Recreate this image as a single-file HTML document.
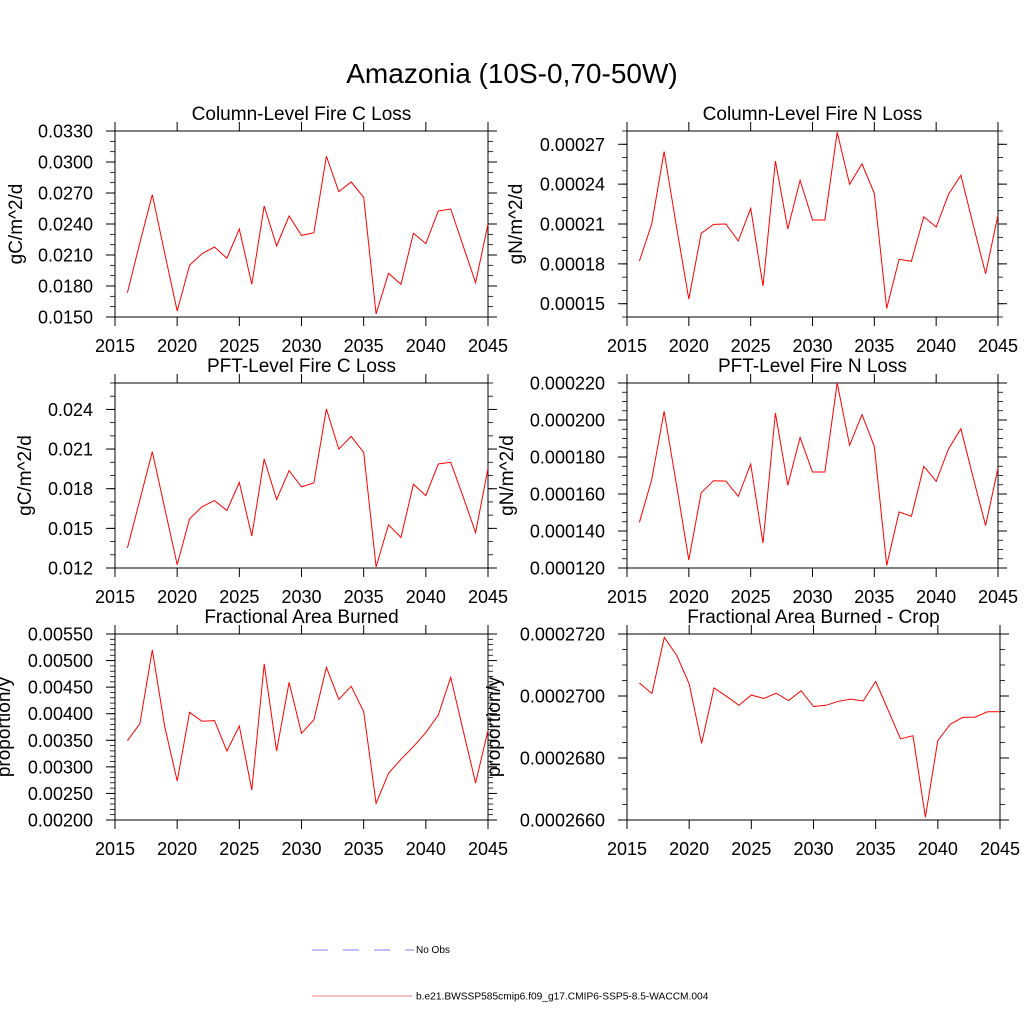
<!DOCTYPE html>
<html><head><meta charset="utf-8"><style>
html,body{margin:0;padding:0;background:#fff;}
svg text{font-family:"Liberation Sans",Arial,sans-serif;fill:#000;}
</style></head><body>
<svg id="fig" width="1024" height="1024" viewBox="0 0 1024 1024" xmlns="http://www.w3.org/2000/svg">
<text x="512" y="83" font-size="28" text-anchor="middle">Amazonia (10S-0,70-50W)</text>
<g>
<line x1="312" y1="950" x2="414" y2="950" stroke="#8080f0" stroke-width="1" stroke-dasharray="16,15"/>
<text x="416" y="953" font-size="10">No Obs</text>
<line x1="312" y1="996" x2="412" y2="996" stroke="#f08080" stroke-width="1"/>
<text x="416" y="999.5" font-size="10.2">b.e21.BWSSP585cmip6.f09_g17.CMIP6-SSP5-8.5-WACCM.004</text>
</g>
</svg>
<script>
const years = [2016,2017,2018,2019,2020,2021,2022,2023,2024,2025,2026,2027,2028,2029,2030,2031,2032,2033,2034,2035,2036,2037,2038,2039,2040,2041,2042,2043,2044,2045];
const xTicks = [2015,2020,2025,2030,2035,2040,2045];
const colCLoss = [0.01735,0.0222,0.02684,0.02116,0.01558,0.0200,0.02113,0.02177,0.02068,0.02352,0.01816,0.02574,0.02187,0.02477,0.0229,0.02316,0.03055,0.02713,0.02806,0.02658,0.01529,0.01923,0.01816,0.0231,0.0221,0.02526,0.02545,0.0219,0.01832,0.0240];
const colNLoss = [18.21,21.0,26.45,20.8,15.35,20.3,20.97,21.0,19.72,22.18,16.33,25.74,20.62,24.29,21.3,21.3,27.9,23.99,25.52,23.31,14.65,18.34,18.19,21.55,20.77,23.23,24.67,20.9,17.26,21.68].map(v=>v*1e-5);
const pftCLoss = [13.51,17.16,20.8,16.53,12.25,15.72,16.63,17.1,16.35,18.47,14.42,20.25,17.18,19.37,18.14,18.44,24.03,21.0,21.96,20.75,12.08,15.27,14.31,18.34,17.48,19.87,20.0,17.4,14.67,19.55].map(v=>v*1e-3);
const pftNLoss = [144.7,167.7,204.7,165,124.3,160.7,167.2,167,158.7,176.2,133.5,203.8,164.7,190.6,171.9,171.9,220,186.3,202.9,185.8,121.4,150.3,147.9,175,166.8,184.3,195.3,168.6,143,174].map(v=>v*1e-6);
const fracBurn = [349.3,381.3,520,375.7,273.4,402.6,385.7,387,329.9,376.9,256.5,493.6,329.9,459,363,388.8,487.3,427.1,451.6,403.9,231.4,287.8,314.2,338,364.4,397.6,468.5,369,269.6,369].map(v=>v*1e-5);
const fracBurnCrop = [2704.2,2700.8,2718.9,2713.1,2703.9,2684.7,2702.6,2699.9,2697,2700.3,2699.2,2700.9,2698.5,2701.7,2696.6,2697,2698.3,2699,2698.4,2704.7,2695.5,2686.2,2687.2,2660.9,2685.6,2690.9,2693.1,2693.2,2694.9,2694.9].map(v=>v*1e-7);
const yTicks1 = ["0.0150","0.0180","0.0210","0.0240","0.0270","0.0300","0.0330"];
const yTicks2 = ["0.00015","0.00018","0.00021","0.00024","0.00027"];
const yTicks3 = ["0.012","0.015","0.018","0.021","0.024"];
const yTicks4 = ["0.000120","0.000140","0.000160","0.000180","0.000200","0.000220"];
const yTicks5 = ["0.00200","0.00250","0.00300","0.00350","0.00400","0.00450","0.00500","0.00550"];
const yTicks6 = ["0.0002660","0.0002680","0.0002700","0.0002720"];

const NS="http://www.w3.org/2000/svg";
const svg=document.getElementById('fig');
function mk(tag,attrs,parent){const e=document.createElementNS(NS,tag);for(const k in attrs)e.setAttribute(k,attrs[k]);(parent||svg).appendChild(e);return e;}

function panel(cfg){
  const g=mk('g',{});
  
  
  const {x0,x1,y0,y1,ymin,ymax,ticks,minor,data,title,ylab}=cfg;
  const X=v=>x0+(v-2015)/30*(x1-x0);
  const Y=v=>y1-(v-ymin)/(ymax-ymin)*(y1-y0);
  const t=mk('text',{x:(x0+x1)/2,y:y0-11,'font-size':19,'text-anchor':'middle'},g);
  t.textContent=title;
  
  
  const box=mk('rect',{x:x0,y:y0,width:x1-x0,height:y1-y0,fill:'none',stroke:'#000','stroke-width':1},g);
  
  
  xTicks.forEach(v=>{
    const x=X(v);
    mk('line',{x1:x,y1:y0,x2:x,y2:y0-9,stroke:'#000'},g);
    mk('line',{x1:x,y1:y1,x2:x,y2:y1+9,stroke:'#000'},g);
    const l=mk('text',{x:x,y:y1+35,'font-size':18,'text-anchor':'middle'},g);
    l.textContent=v;
    
    
  });
  ticks.forEach(s=>{
    const y=Y(parseFloat(s));
    mk('line',{x1:x0,y1:y,x2:x0-9,y2:y,stroke:'#000'},g);
    mk('line',{x1:x1,y1:y,x2:x1+9,y2:y,stroke:'#000'},g);
    const l=mk('text',{x:x0-22,y:y+6.5,'font-size':18,'text-anchor':'end'},g);
    l.textContent=s;
    
    
  });
  for(let v=ymin;v<=ymax+minor*0.01;v+=minor){
    const y=Y(v);
    mk('line',{x1:x0,y1:y,x2:x0-5,y2:y,stroke:'#000','stroke-width':0.8},g);
    mk('line',{x1:x1,y1:y,x2:x1+5,y2:y,stroke:'#000','stroke-width':0.8},g);
  }
  const yl=mk('text',{x:0,y:0,'font-size':19,'text-anchor':'middle',transform:`translate(${cfg.ylx},${(y0+y1)/2}) rotate(-90)`},g);
  yl.textContent=ylab;
  
  
  const pts=data.map((v,i)=>X(years[i]).toFixed(1)+','+Y(v).toFixed(1)).join(' ');
  const pl=mk('polyline',{points:pts,fill:'none',stroke:'#ff0000','stroke-width':1},g);
  
  
}

panel({name:'panel-column-c-loss',x0:115,x1:488,y0:131,y1:317,ymin:0.015,ymax:0.033,ticks:yTicks1,minor:0.001,data:colCLoss,title:'Column-Level Fire C Loss',ylab:'gC/m^2/d',ylx:22});
panel({name:'panel-column-n-loss',x0:627,x1:998,y0:131,y1:317,ymin:0.00014,ymax:0.00028,ticks:yTicks2,minor:0.00001,data:colNLoss,title:'Column-Level Fire N Loss',ylab:'gN/m^2/d',ylx:522});
panel({name:'panel-pft-c-loss',x0:115,x1:488,y0:383,y1:568,ymin:0.012,ymax:0.026,ticks:yTicks3,minor:0.001,data:pftCLoss,title:'PFT-Level Fire C Loss',ylab:'gC/m^2/d',ylx:31});
panel({name:'panel-pft-n-loss',x0:627,x1:998,y0:383,y1:568,ymin:0.00012,ymax:0.00022,ticks:yTicks4,minor:0.000005,data:pftNLoss,title:'PFT-Level Fire N Loss',ylab:'gN/m^2/d',ylx:513});
panel({name:'panel-frac-area-burned',x0:115,x1:488,y0:634,y1:820,ymin:0.002,ymax:0.0055,ticks:yTicks5,minor:0.0001,data:fracBurn,title:'Fractional Area Burned',ylab:'proportion/y',ylx:10});
panel({name:'panel-frac-area-burned-crop',x0:627,x1:1000,y0:634,y1:820,ymin:0.000266,ymax:0.000272,ticks:yTicks6,minor:0.0000005,data:fracBurnCrop,title:'Fractional Area Burned - Crop',ylab:'proportion/y',ylx:500});
</script>
</body></html>
